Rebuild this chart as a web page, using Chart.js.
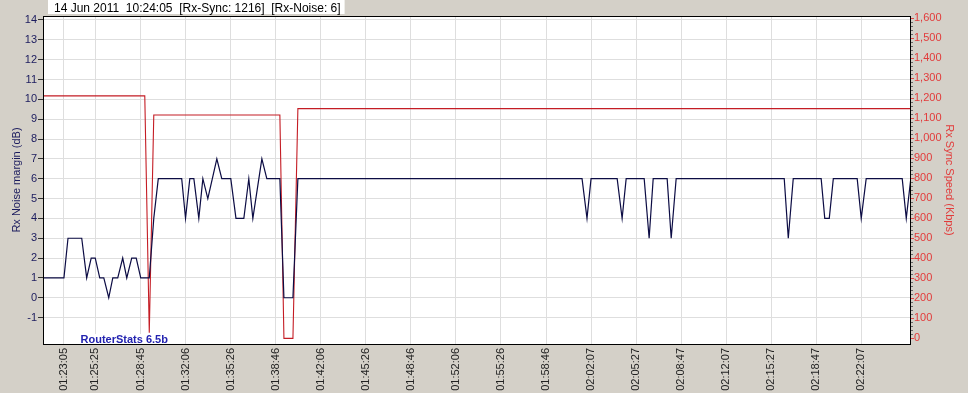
<!DOCTYPE html>
<html lang="en">
<head>
  <meta charset="UTF-8">
  <title>RouterStats - Rx Noise / Sync</title>
  <script src="https://cdn.jsdelivr.net/npm/chart.js"></script>
  <style>
    body { margin: 0; background: #d4d0c8; }
    #chartContainer { width: 968px; height: 393px; }
  </style>
</head>
<body>
<div id="chartContainer">
  <canvas id="statsChart" width="968" height="393"></canvas>
</div>

<script>
// header shown above the plot
const headerText = '14 Jun 2011  10:24:05  [Rx-Sync: 1216]  [Rx-Noise: 6]';
const badgeText = 'RouterStats 6.5b';

// time labels along the bottom axis
const timeLabels = ['01:23:05', '01:25:25', '01:28:45', '01:32:06', '01:35:26', '01:38:46',
  '01:42:06', '01:45:26', '01:48:46', '01:52:06', '01:55:26', '01:58:46', '02:02:07',
  '02:05:27', '02:08:47', '02:12:07', '02:15:27', '02:18:47', '02:22:07'];

// Rx noise margin (dB) - corners of the line
const noiseTimes = ['01:21:32', '01:23:05', '01:23:23', '01:24:24', '01:24:46', '01:25:06',
  '01:25:24', '01:25:44', '01:26:02', '01:26:24', '01:26:42', '01:27:04', '01:27:26',
  '01:27:44', '01:28:06', '01:28:26', '01:28:46', '01:29:04', '01:29:24', '01:29:44',
  '01:30:04', '01:31:48', '01:32:05', '01:32:24', '01:32:42', '01:33:04', '01:33:22',
  '01:33:44', '01:34:24', '01:34:46', '01:35:26', '01:35:49', '01:36:24', '01:36:46',
  '01:37:04', '01:37:44', '01:38:06', '01:39:04', '01:39:22', '01:40:02', '01:40:24',
  '02:01:26', '02:01:48', '02:02:06', '02:04:02', '02:04:24', '02:04:42', '02:06:02',
  '02:06:24', '02:06:42', '02:07:44', '02:08:02', '02:08:24', '02:16:24', '02:16:42',
  '02:17:04', '02:19:08', '02:19:24', '02:19:44', '02:20:02', '02:21:48', '02:22:06',
  '02:22:28', '02:25:08', '02:25:26', '02:25:46'];
const noiseValues = [1, 1, 3, 3, 1, 2,
  2, 1, 1, 0, 1, 1, 2,
  1, 2, 2, 1, 1, 1, 4,
  6, 6, 4, 6, 6, 4, 6,
  5, 7, 6, 6, 4, 4, 6,
  4, 7, 6, 6, 0, 0, 6,
  6, 4, 6, 6, 4, 6, 6,
  3, 6, 6, 3, 6, 6, 3,
  6, 6, 4, 4, 6, 6, 4,
  6, 6, 4, 6];

// Rx sync speed (Kbps)
const syncTimes = ['01:21:32', '01:29:04', '01:29:24', '01:29:44', '01:39:04', '01:39:22',
  '01:40:02', '01:40:24', '02:25:46'];
const syncValues = [1212, 1212, 28, 1116, 1116, 0, 0, 1148, 1148];

// axis ticks
const noiseTicks = [-1, 0, 1, 2, 3, 4, 5, 6, 7, 8, 9, 10, 11, 12, 13, 14];
const syncTicks = [0, 100, 200, 300, 400, 500, 600, 700, 800, 900, 1000, 1100, 1200,
  1300, 1400, 1500, 1600];

function toSec(t) {
  const [h, m, s] = t.split(':').map(Number);
  return h * 3600 + m * 60 + s;
}

const navy = '#1b1b5e';
const red = '#e23b3b';

// white plot area, frame, minor ticks, header box and badge
const framePlugin = {
  id: 'frame',
  beforeDraw(chart) {
    const { ctx, chartArea: a } = chart;
    ctx.save();
    ctx.fillStyle = '#fff';
    ctx.fillRect(a.left, a.top, a.right - a.left, a.bottom - a.top);
    ctx.restore();
  },
  afterDraw(chart) {
    const { ctx, chartArea: a } = chart;
    const sync = chart.scales.ySync;
    ctx.save();

    // minor ticks on the sync axis
    ctx.strokeStyle = '#666';
    ctx.lineWidth = 1;
    ctx.beginPath();
    for (let v = 20; v < 1600; v += 20) {
      if (v % 100 === 0) continue;
      const y = Math.round(sync.getPixelForValue(v)) + 0.5;
      ctx.moveTo(a.right, y);
      ctx.lineTo(a.right + 2, y);
    }
    ctx.stroke();

    // badge in the lower left corner
    ctx.font = 'bold 11px "Liberation Sans", Arial, sans-serif';
    const bw = ctx.measureText(badgeText).width;
    ctx.fillStyle = '#fff';
    ctx.fillRect(79, a.bottom - 10, bw + 3, 10);
    ctx.fillStyle = '#2323b0';
    ctx.textBaseline = 'alphabetic';
    ctx.fillText(badgeText, 80.5, a.bottom - 1);

    // frame round the plot
    ctx.strokeStyle = '#000';
    ctx.strokeRect(a.left + 0.5, a.top + 0.5, a.right - a.left - 1, a.bottom - a.top);

    // header
    ctx.font = '12px "Liberation Sans", Arial, sans-serif';
    const hw = ctx.measureText(headerText).width;
    ctx.fillStyle = '#fff';
    ctx.fillRect(48, 0, hw + 10, 14);
    ctx.fillStyle = '#000';
    ctx.fillText(headerText, 54, 12);
    ctx.restore();
  }
};

Chart.defaults.font.family = '"Liberation Sans", Arial, sans-serif';
Chart.defaults.font.size = 11;

const ctx = document.getElementById('statsChart').getContext('2d');
new Chart(ctx, {
  type: 'line',
  data: {
    datasets: [{
      label: 'Rx Noise margin (dB)',
      data: noiseTimes.map((t, i) => ({ x: toSec(t), y: noiseValues[i] })),
      yAxisID: 'yNoise',
      borderColor: '#0c0c44',
      borderWidth: 1.2,
      pointRadius: 0,
      tension: 0
    }, {
      label: 'Rx Sync Speed (Kbps)',
      data: syncTimes.map((t, i) => ({ x: toSec(t), y: syncValues[i] })),
      yAxisID: 'ySync',
      borderColor: '#c41c24',
      borderWidth: 1.1,
      pointRadius: 0,
      tension: 0
    }]
  },
  options: {
    responsive: false,
    animation: false,
    layout: { padding: { top: 16, left: 0, right: 0, bottom: 0 } },
    plugins: {
      legend: { display: false },
      tooltip: { enabled: false }
    },
    scales: {
      x: {
        type: 'linear',
        min: toSec('01:21:32'),
        max: toSec('02:25:47'),
        afterBuildTicks: s => { s.ticks = timeLabels.map(l => ({ value: toSec(l) })); },
        afterFit: s => { s.height = 49; },
        ticks: {
          autoSkip: false,
          minRotation: 90,
          maxRotation: 90,
          padding: 4,
          color: '#222',
          callback: (v, i) => timeLabels[i]
        },
        grid: { color: '#dedede', drawTicks: false },
        border: { display: false }
      },
      yNoise: {
        position: 'left',
        min: -2.33,
        max: 14.2,
        afterBuildTicks: s => { s.ticks = noiseTicks.map(v => ({ value: v })); },
        afterFit: s => { s.width = 43; },
        ticks: { color: navy, padding: 1 },
        grid: { color: '#dedede', tickLength: 5, tickColor: '#333' },
        border: { display: false },
        title: {
          display: true,
          text: 'Rx Noise margin (dB)',
          color: navy,
          padding: { top: 10, bottom: 0 }
        }
      },
      ySync: {
        position: 'right',
        min: -28,
        max: 1611,
        afterBuildTicks: s => { s.ticks = syncTicks.map(v => ({ value: v })); },
        afterFit: s => { s.width = 57; },
        ticks: {
          color: red,
          padding: 0,
          callback: v => v.toLocaleString('en-US')
        },
        grid: { drawOnChartArea: false, tickLength: 3, tickColor: '#e04848' },
        border: { display: false },
        title: {
          display: true,
          text: 'Rx Sync Speed (Kbps)',
          color: red,
          padding: { top: 12, bottom: 0 }
        }
      }
    }
  },
  plugins: [framePlugin]
});
</script>
</body>
</html>
